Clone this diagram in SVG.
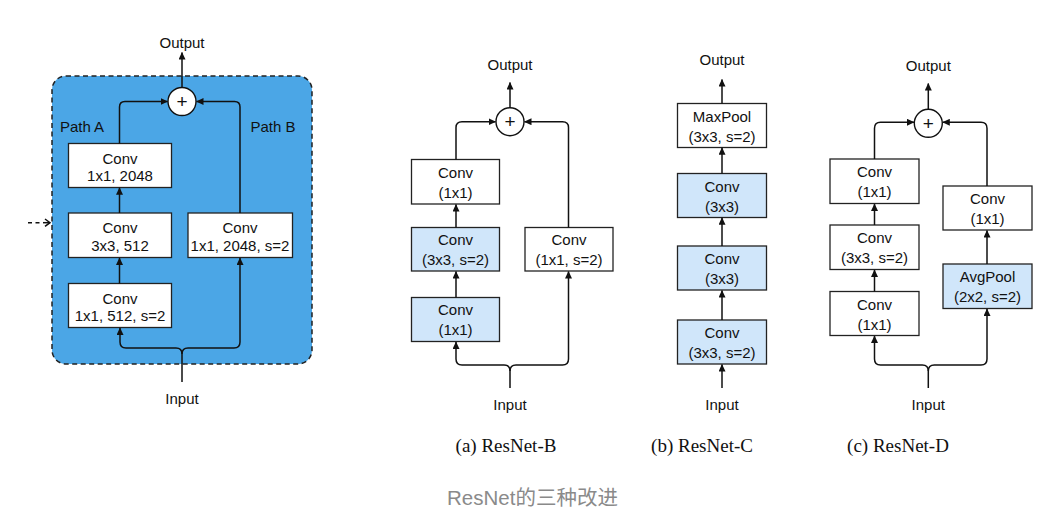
<svg xmlns="http://www.w3.org/2000/svg" width="1053" height="526" viewBox="0 0 1053 526">
<defs>
<marker id="ah" markerUnits="userSpaceOnUse" markerWidth="8" markerHeight="7" refX="7" refY="3.5" orient="auto">
<path d="M0,0 L7.5,3.5 L0,7 z" fill="#111"/>
</marker>
<style>
.bg{fill:#ffffff}
.panel{fill:#4ba6e6;stroke:#222;stroke-width:1.5;stroke-dasharray:5 3.5}
.box{fill:#ffffff;stroke:#222;stroke-width:1.3}
.lbox{fill:#d0e6fa;stroke:#222;stroke-width:1.3}
.sum{fill:#ffffff;stroke:#111;stroke-width:1.4}
.t{font-family:"Liberation Sans",Arial,sans-serif;font-size:15px;fill:#111;text-anchor:middle}
.c{font-family:"Liberation Serif","Times New Roman",serif;font-size:19px;fill:#111;text-anchor:middle}
.cap{font-family:"Liberation Sans","Noto Sans CJK SC",sans-serif;font-size:20.5px;fill:#8a8a8a;text-anchor:middle}
.ln{fill:none;stroke:#111;stroke-width:1.5}
.arr{fill:none;stroke:#111;stroke-width:1.5;marker-end:url(#ah)}
.plus{font-family:"Liberation Sans",Arial,sans-serif;font-size:19px;fill:#111;text-anchor:middle}
</style>
</defs>
<rect class="bg" x="0" y="0" width="1053" height="526"/>

<!-- Left panel: bottleneck block -->
<g id="panel-left">
<rect class="panel" x="52" y="76" width="260" height="288" rx="14"/>
</g>
<g id="left-output"><text class="t" x="182" y="48">Output</text></g>
<g id="left-input"><text class="t" x="182" y="404">Input</text></g>
<g id="left-pathA"><text class="t" x="82" y="132">Path A</text></g>
<g id="left-pathB"><text class="t" x="273" y="132">Path B</text></g>
<g id="left-sum"><circle class="sum" cx="182" cy="101.5" r="14"/><text class="plus" x="182" y="108">+</text></g>
<g id="left-a3"><rect class="box" x="68.5" y="143.5" width="103" height="44"/><text class="t" x="120" y="163.5">Conv</text><text class="t" x="120" y="181">1x1, 2048</text></g>
<g id="left-a2"><rect class="box" x="68.5" y="213" width="103" height="44.5"/><text class="t" x="120" y="233">Conv</text><text class="t" x="120" y="250.5">3x3, 512</text></g>
<g id="left-a1"><rect class="box" x="68.5" y="283.5" width="103" height="44"/><text class="t" x="120" y="303.5">Conv</text><text class="t" x="120" y="321">1x1, 512, s=2</text></g>
<g id="left-b1"><rect class="box" x="188" y="213" width="104.5" height="44.5"/><text class="t" x="240" y="233">Conv</text><text class="t" x="240" y="250.5">1x1, 2048, s=2</text></g>

<!-- Panel a: ResNet-B -->
<g id="b-output"><text class="t" x="510" y="70">Output</text></g>
<g id="b-input"><text class="t" x="510" y="410">Input</text></g>
<g id="b-sum"><circle class="sum" cx="510" cy="121.7" r="14"/><text class="plus" x="510" y="128.2">+</text></g>
<g id="b-a3"><rect class="box" x="411.5" y="159.5" width="88" height="44.5"/><text class="t" x="455.5" y="177.5">Conv</text><text class="t" x="455.5" y="197.5">(1x1)</text></g>
<g id="b-a2"><rect class="lbox" x="411.5" y="227.5" width="88" height="43.5"/><text class="t" x="455.5" y="245">Conv</text><text class="t" x="455.5" y="265">(3x3, s=2)</text></g>
<g id="b-a1"><rect class="lbox" x="411.5" y="297.5" width="88" height="44"/><text class="t" x="455.5" y="315">Conv</text><text class="t" x="455.5" y="335">(1x1)</text></g>
<g id="b-b1"><rect class="box" x="525" y="227.5" width="88" height="43.5"/><text class="t" x="569" y="245">Conv</text><text class="t" x="569" y="265">(1x1, s=2)</text></g>
<text class="c" x="506" y="452">(a) ResNet-B</text>

<!-- Panel b: ResNet-C -->
<g id="c-output"><text class="t" x="722" y="65">Output</text></g>
<g id="c-input"><text class="t" x="722" y="410">Input</text></g>
<g id="c-pool"><rect class="box" x="677.5" y="103.5" width="89" height="44"/><text class="t" x="722" y="121.5">MaxPool</text><text class="t" x="722" y="141.5">(3x3, s=2)</text></g>
<g id="c-conv3"><rect class="lbox" x="677.5" y="173.5" width="89" height="44"/><text class="t" x="722" y="191.5">Conv</text><text class="t" x="722" y="211.5">(3x3)</text></g>
<g id="c-conv2"><rect class="lbox" x="677.5" y="246" width="89" height="44"/><text class="t" x="722" y="264">Conv</text><text class="t" x="722" y="284">(3x3)</text></g>
<g id="c-conv1"><rect class="lbox" x="677.5" y="320" width="89" height="44"/><text class="t" x="722" y="338">Conv</text><text class="t" x="722" y="358">(3x3, s=2)</text></g>
<text class="c" x="702" y="452">(b) ResNet-C</text>

<!-- Panel c: ResNet-D -->
<g id="d-output"><text class="t" x="928.3" y="70.5">Output</text></g>
<g id="d-input"><text class="t" x="928.3" y="410">Input</text></g>
<g id="d-sum"><circle class="sum" cx="928.3" cy="123.3" r="14"/><text class="plus" x="928.3" y="129.8">+</text></g>
<g id="d-a3"><rect class="box" x="830" y="159" width="89" height="44.5"/><text class="t" x="874.5" y="177">Conv</text><text class="t" x="874.5" y="197">(1x1)</text></g>
<g id="d-a2"><rect class="box" x="830" y="225" width="89" height="44.5"/><text class="t" x="874.5" y="243">Conv</text><text class="t" x="874.5" y="263">(3x3, s=2)</text></g>
<g id="d-a1"><rect class="box" x="830" y="291.5" width="89" height="44"/><text class="t" x="874.5" y="309.5">Conv</text><text class="t" x="874.5" y="329.5">(1x1)</text></g>
<g id="d-b2"><rect class="box" x="943" y="186" width="89" height="44"/><text class="t" x="987.5" y="204">Conv</text><text class="t" x="987.5" y="224">(1x1)</text></g>
<g id="d-b1"><rect class="lbox" x="943" y="264" width="89" height="44.5"/><text class="t" x="987.5" y="282">AvgPool</text><text class="t" x="987.5" y="302">(2x2, s=2)</text></g>
<text class="c" x="898" y="452">(c) ResNet-D</text>

<text class="cap" x="532.5" y="505">ResNet的三种改进</text>

<g id="connectors">
<!-- left -->
<path class="arr" d="M182,87.5 V52.5"/>
<path class="arr" d="M119.5,143.5 V107 Q119.5,101.5 125,101.5 H167.5"/>
<path class="arr" d="M240,213 V107 Q240,101.5 234.5,101.5 H196.5"/>
<path class="arr" d="M119.5,213 V187.8"/>
<path class="arr" d="M119.5,283.5 V258"/>
<path class="ln" d="M182,382 V354 Q182,348 176,348 H126 Q120,348 120,342"/>
<path class="arr" d="M120,342 V328"/>
<path class="ln" d="M182,354 Q182,348 188,348 H234 Q240,348 240,342"/>
<path class="arr" d="M240,342 V258"/>
<path class="ln" d="M28,222.7 H41" stroke-dasharray="4 3.5"/>
<path class="ln" d="M45,219 L50,222.7 L45,226.4" stroke-width="1.2"/>
<path class="ln" d="M43,222.7 H49.5" stroke-width="1.2"/>
<!-- B -->
<path class="arr" d="M510,107.7 V82.5"/>
<path class="arr" d="M456,159.5 V127.5 Q456,121.7 462,121.7 H495.5"/>
<path class="arr" d="M568.5,227.5 V127.5 Q568.5,121.7 562.5,121.7 H524.5"/>
<path class="arr" d="M456,227.5 V204.5"/>
<path class="arr" d="M456,297.5 V271.5"/>
<path class="ln" d="M510,388 V371 Q510,365 504,365 H462 Q456,365 456,359"/>
<path class="arr" d="M456,359 V342"/>
<path class="ln" d="M510,371 Q510,365 516,365 H562.5 Q568.5,365 568.5,359"/>
<path class="arr" d="M568.5,359 V271.5"/>
<!-- C -->
<path class="arr" d="M722,103.5 V79.5"/>
<path class="arr" d="M722,173.5 V147.8"/>
<path class="arr" d="M722,246 V217.8"/>
<path class="arr" d="M722,320 V290.5"/>
<path class="arr" d="M722,388 V364.5"/>
<!-- D -->
<path class="arr" d="M928.3,109.3 V83.5"/>
<path class="arr" d="M874.5,159 V128.3 Q874.5,122.3 880.5,122.3 H914"/>
<path class="arr" d="M987,186 V128.3 Q987,122.3 981,122.3 H942.8"/>
<path class="arr" d="M874.5,225 V204"/>
<path class="arr" d="M874.5,291.5 V270"/>
<path class="arr" d="M987,264 V230.5"/>
<path class="ln" d="M928.3,388 V371 Q928.3,365 922.3,365 H880.5 Q874.5,365 874.5,359"/>
<path class="arr" d="M874.5,359 V336"/>
<path class="ln" d="M928.3,371 Q928.3,365 934.3,365 H981 Q987,365 987,359"/>
<path class="arr" d="M987,359 V309"/>
</g>
</svg>
